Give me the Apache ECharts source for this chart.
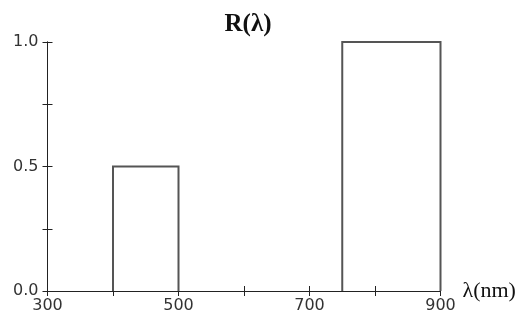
<!DOCTYPE html>
<html lang="en" style="height: 100%">
<head>
<meta charset="utf-8">
<title>R(λ)</title>
</head>
<body style="height: 100%; margin: 0; background: #fff">
<div id="container" style="width: 524px; height: 320px"></div>
<script type="text/javascript" src="https://cdn.jsdelivr.net/npm/echarts/dist/echarts.min.js"></script>
<script type="text/javascript">

// bands: [start nm, end nm, R]
const bandStart = [400, 750];
const bandEnd = [500, 900];
const bandValue = [0.5, 1.0];
const xLabels = [300, 500, 700, 900];
const yLabels = [0, 0.5, 1.0];

var dom = document.getElementById('container');
var myChart = echarts.init(dom);

const bands = bandStart.map(function (s, i) {
    return [s, bandEnd[i], bandValue[i]];
});

const labelStyle = {
    color: '#333',
    fontFamily: 'DejaVu Sans',
    fontSize: 16
};

// two copies of each axis: one with ticks outside, one inside, so ticks cross the line
function xAxisDef(inside, showLabels) {
    return {
        type: 'value',
        position: 'bottom',
        min: 300,
        max: 900,
        interval: 100,
        splitLine: { show: false },
        axisLine: { show: true, lineStyle: { color: '#222', width: 1 } },
        axisTick: { show: true, inside: inside, length: 5, lineStyle: { color: '#222' } },
        axisLabel: {
            show: showLabels,
            margin: 7,
            ...labelStyle,
            formatter: function (v) { return xLabels.indexOf(v) >= 0 ? String(v) : ''; }
        },
        name: showLabels ? 'λ(nm)' : '',
        nameLocation: 'end',
        nameGap: 22,
        nameTextStyle: { fontFamily: 'Liberation Serif', fontSize: 22, color: '#111', verticalAlign: 'middle', padding: [6, 0, 0, 0] }
    };
}

function yAxisDef(inside, showLabels) {
    return {
        type: 'value',
        position: 'left',
        min: 0,
        max: 1,
        interval: 0.25,
        splitLine: { show: false },
        axisLine: { show: true, lineStyle: { color: '#222', width: 1 } },
        axisTick: { show: true, inside: inside, length: 5, lineStyle: { color: '#222' } },
        axisLabel: {
            show: showLabels,
            margin: 9,
            ...labelStyle,
            formatter: function (v) {
                return yLabels.indexOf(v) >= 0 ? v.toFixed(1) : '';
            }
        }
    };
}

var option = {
    animation: false,
    title: {
        text: 'R(λ)',
        left: 243,
        textAlign: 'center',
        top: 7,
        textStyle: { fontFamily: 'Liberation Serif', fontSize: 25, fontWeight: 'bold', color: '#111' }
    },
    grid: { left: 47.5, right: 83.5, top: 42, bottom: 29 },
    xAxis: [xAxisDef(false, true), xAxisDef(true, false)],
    yAxis: [yAxisDef(false, true), yAxisDef(true, false)],
    series: [{
        type: 'custom',
        data: bands,
        encode: { x: [0, 1], y: 2 },
        renderItem: function (params, api) {
            var p0 = api.coord([api.value(0), api.value(2)]);
            var p1 = api.coord([api.value(1), 0]);
            return {
                type: 'polyline',
                shape: { points: [[p0[0], p1[1]], [p0[0], p0[1]], [p1[0], p0[1]], [p1[0], p1[1]]] },
                style: { fill: 'none', stroke: '#555', lineWidth: 2 }
            };
        }
    }]
};

myChart.setOption(option);
window.addEventListener('resize', myChart.resize);
</script>
</body>
</html>
